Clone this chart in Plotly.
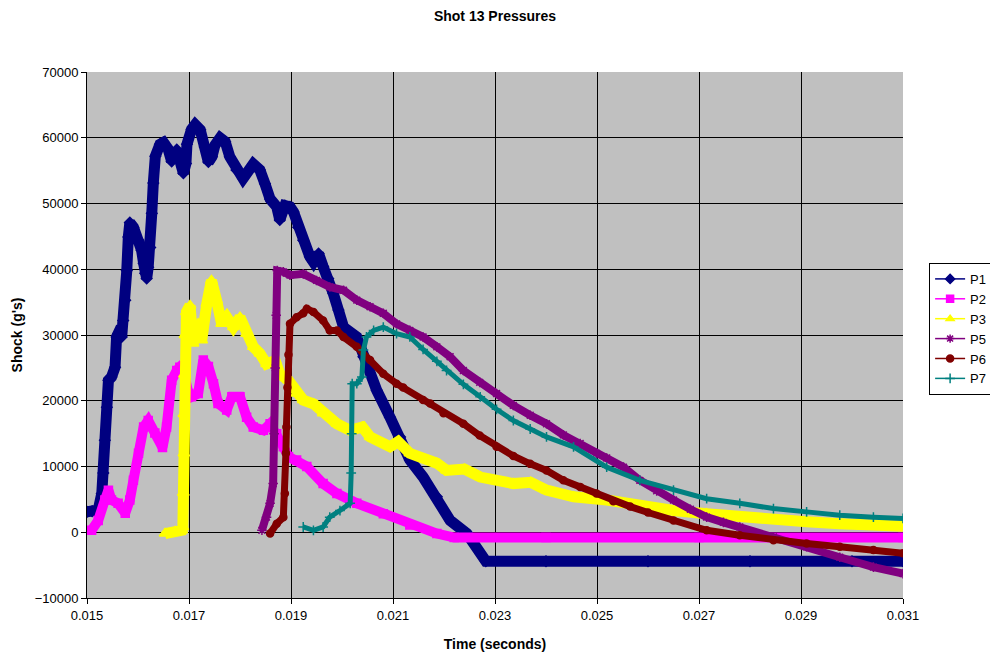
import plotly.graph_objects as go

# values
p1_t = [0.01500, 0.01510, 0.01522, 0.01529, 0.01532, 0.01535, 0.01539, 0.01542, 0.01548, 0.01555,
        0.01558, 0.01561, 0.01568, 0.01571, 0.01575, 0.01578, 0.01581, 0.01584, 0.01591, 0.01601,
        0.01607, 0.01611, 0.01614, 0.01617, 0.01620, 0.01624, 0.01627, 0.01630, 0.01634, 0.01643,
        0.01650, 0.01659, 0.01666, 0.01676, 0.01682, 0.01689, 0.01694, 0.01696, 0.01705, 0.01712,
        0.01722, 0.01731, 0.01738, 0.01745, 0.01751, 0.01761, 0.01771, 0.01780, 0.01793, 0.01806,
        0.01826, 0.01839, 0.01849, 0.01859, 0.01872, 0.01878, 0.01888, 0.01898, 0.01905, 0.01914,
        0.01924, 0.01937, 0.01944, 0.01954, 0.01963, 0.01973, 0.01983, 0.01993, 0.02003, 0.02029,
        0.02042, 0.02068, 0.02094, 0.02114, 0.02133, 0.02159, 0.02186, 0.02212, 0.02245, 0.02271,
        0.02282, 0.02400, 0.02600, 0.02800, 0.03000, 0.03100]
p1_v = [3100, 3200, 3400, 5900, 9000, 14000, 19000, 23100, 23600, 25100,
        29700, 30200, 29700, 32200, 35300, 39800, 44900, 47100, 46400, 44400,
        42900, 40900, 39400, 38600, 40300, 43300, 48500, 53100, 57200, 59000,
        59300, 58300, 56400, 58200, 57000, 54600, 56100, 59000, 61300, 62000,
        61200, 58600, 56300, 57100, 58900, 60000, 59400, 57100, 55100, 53800,
        56000, 55100, 53000, 50700, 49500, 47500, 49700, 49500, 48700, 46400,
        44400, 41900, 41100, 42400, 40400, 38600, 36300, 33800, 31200, 29700,
        26700, 21600, 17500, 14500, 11000, 8400, 5400, 1800, -200, -3200,
        -4400, -4400, -4400, -4400, -4400, -4400]

p2_t = [0.01509, 0.01522, 0.01535, 0.01542, 0.01548, 0.01561, 0.01575, 0.01584, 0.01591, 0.01601,
        0.01611, 0.01620, 0.01633, 0.01648, 0.01656, 0.01666, 0.01676, 0.01682, 0.01689, 0.01692,
        0.01699, 0.01705, 0.01718, 0.01728, 0.01738, 0.01748, 0.01757, 0.01774, 0.01784, 0.01800,
        0.01813, 0.01826, 0.01846, 0.01859, 0.01872, 0.01885, 0.01895, 0.01911, 0.01931, 0.01963,
        0.01990, 0.02029, 0.02081, 0.02133, 0.02186, 0.02220, 0.02400, 0.02700, 0.03100]
p2_v = [300, 1800, 4900, 6400, 4900, 4400, 2900, 4900, 7900, 12000,
        16000, 17000, 15100, 12900, 16000, 23100, 24600, 25100, 24600, 22600,
        21100, 20600, 21100, 26200, 25200, 22600, 19600, 18600, 20600, 20600,
        17500, 16000, 15500, 16500, 15000, 13000, 11500, 11000, 10000, 7400,
        5900, 4400, 2800, 1100, -200, -800, -800, -800, -800]

p3_t = [0.01653, 0.01673, 0.01686, 0.01688, 0.01689, 0.01690, 0.01690, 0.01691, 0.01692, 0.01695,
        0.01702, 0.01708, 0.01718, 0.01725, 0.01735, 0.01744, 0.01754, 0.01764, 0.01774, 0.01787,
        0.01800, 0.01813, 0.01826, 0.01839, 0.01852, 0.01869, 0.01878, 0.01895, 0.01911, 0.01924,
        0.01945, 0.01963, 0.01990, 0.02016, 0.02040, 0.02055, 0.02094, 0.02110, 0.02133, 0.02186,
        0.02205, 0.02240, 0.02271, 0.02336, 0.02370, 0.02401, 0.02454, 0.02519, 0.02584, 0.02650,
        0.02715, 0.02780, 0.02846, 0.02911, 0.02976, 0.03042, 0.03100]
p3_v = [-200, 100, 300, 800, 6000, 12000, 18000, 24000, 30000, 33500,
        34500, 28700, 31700, 29200, 34800, 38300, 35300, 31700, 32700, 31200,
        32700, 30200, 28200, 27200, 25600, 26100, 24100, 23100, 21100, 20100,
        19500, 18100, 16500, 15500, 16000, 14500, 13000, 13800, 12000, 10500,
        9400, 9600, 8400, 7400, 7600, 6400, 5400, 4900, 3900, 3300,
        2800, 2300, 1800, 1600, 1300, 1100, 900]

p5_t = [0.01843, 0.01852, 0.01859, 0.01865, 0.01867, 0.01869, 0.01871, 0.01873, 0.01885, 0.01898,
        0.01924, 0.01950, 0.01976, 0.02003, 0.02029, 0.02055, 0.02081, 0.02107, 0.02133, 0.02159,
        0.02186, 0.02212, 0.02238, 0.02270, 0.02303, 0.02336, 0.02369, 0.02401, 0.02434, 0.02467,
        0.02499, 0.02519, 0.02552, 0.02584, 0.02617, 0.02650, 0.02683, 0.02715, 0.02748, 0.02780,
        0.02846, 0.02911, 0.02976, 0.03042, 0.03100]
p5_v = [300, 2300, 4400, 7400, 15000, 25000, 33000, 39800, 39600, 39100,
        39300, 38300, 37300, 36800, 35300, 34300, 33300, 31700, 30700, 29700,
        28200, 26700, 24600, 22800, 21100, 19300, 17800, 16500, 14800, 13500,
        12000, 11300, 9900, 7900, 6300, 4900, 3500, 2300, 1500, 800,
        -700, -2200, -3800, -5300, -6300]

p6_t = [0.01859, 0.01872, 0.01885, 0.01888, 0.01890, 0.01891, 0.01893, 0.01895, 0.01898, 0.01911,
        0.01924, 0.01931, 0.01944, 0.01963, 0.01976, 0.01990, 0.02003, 0.02029, 0.02055, 0.02081,
        0.02107, 0.02120, 0.02159, 0.02173, 0.02199, 0.02238, 0.02270, 0.02303, 0.02336, 0.02369,
        0.02401, 0.02434, 0.02467, 0.02499, 0.02532, 0.02565, 0.02600, 0.02650, 0.02715, 0.02780,
        0.02846, 0.02911, 0.02976, 0.03042, 0.03100]
p6_v = [-200, 1300, 2300, 5900, 12000, 16000, 22000, 27000, 31700, 32700,
        33300, 34000, 33500, 32200, 30700, 30700, 29700, 28200, 26200, 24100,
        22600, 22000, 20100, 19600, 18100, 16500, 14700, 13000, 11600, 10400,
        9400, 7900, 6900, 5900, 4700, 3900, 3000, 1800, 300, -460,
        -1200, -1700, -2200, -2700, -3200]

p7_t = [0.01924, 0.01944, 0.01963, 0.01976, 0.01996, 0.02016, 0.02018, 0.02019, 0.02020, 0.02029,
        0.02039, 0.02042, 0.02048, 0.02062, 0.02081, 0.02107, 0.02133, 0.02159, 0.02186, 0.02205,
        0.02238, 0.02271, 0.02303, 0.02336, 0.02369, 0.02401, 0.02454, 0.02519, 0.02584, 0.02650,
        0.02715, 0.02780, 0.02846, 0.02911, 0.02976, 0.03042, 0.03100]
p7_v = [800, 300, 800, 2300, 3300, 4400, 9000, 15000, 22600, 22600,
        23600, 27700, 29700, 30700, 31200, 30200, 29700, 27800, 26000, 24600,
        22500, 20600, 18700, 17000, 15700, 14500, 13000, 9900, 7900, 6400,
        5100, 4400, 3600, 3100, 2600, 2300, 2100]

x_ticks = [0.015, 0.017, 0.019, 0.021, 0.023, 0.025, 0.027, 0.029, 0.031]
y_ticks = [-10000, 0, 10000, 20000, 30000, 40000, 50000, 60000, 70000]

series = [
    ("P1", p1_t, p1_v, "#000080", "diamond", 11, 8),
    ("P2", p2_t, p2_v, "#FF00FF", "square", 10, 8),
    ("P3", p3_t, p3_v, "#FFFF00", "triangle-up", 11, 10),
    ("P5", p5_t, p5_v, "#800080", "asterisk-open", 8, 8),
    ("P6", p6_t, p6_v, "#800000", "circle", 7, 7),
    ("P7", p7_t, p7_v, "#008080", "cross-thin-open", 5, 7),
]

fig = go.Figure()
for name, t, v, col, sym, lw, ms in series:
    # thick band for the dense samples
    fig.add_trace(go.Scatter(
        x=t, y=v, mode="lines+markers", name=name, legendgroup=name, showlegend=False,
        line=dict(color=col, width=lw),
        marker=dict(symbol=sym, size=ms, color=col, line=dict(color=col, width=1.5)),
    ))
    # legend entry like Excel's (thin line + marker)
    fig.add_trace(go.Scatter(
        x=[None], y=[None], mode="lines+markers", name=name, legendgroup=name,
        line=dict(color=col, width=1.5),
        marker=dict(symbol=sym, size=7, color=col, line=dict(color=col, width=1.5)),
    ))

# the page body adds an 8px offset, so the figure is 990x648
fig.update_layout(
    width=990, height=648,
    margin=dict(l=79, r=95, t=64, b=58, autoexpand=False),
    paper_bgcolor="white",
    plot_bgcolor="#C0C0C0",
    font=dict(family="Arial, Liberation Sans, sans-serif", size=12, color="black"),
    title=dict(text="<b>Shot 13 Pressures</b>", x=0.5, xref="paper", y=0.988, yanchor="middle",
               font=dict(size=14)),
    legend=dict(x=1.032, xref="paper", xanchor="left", y=0.637, yanchor="top",
                bgcolor="white", bordercolor="black", borderwidth=1,
                font=dict(size=13), tracegroupgap=0, itemwidth=30),
    showlegend=True,
)
fig.update_xaxes(
    range=[0.015, 0.031], tickvals=x_ticks, tickformat=".3f", tickfont=dict(size=13),
    showgrid=True, gridcolor="black", gridwidth=1,
    showline=True, linecolor="black", linewidth=1,
    ticks="outside", ticklen=5, tickcolor="black", automargin=False,
    zeroline=False, title=dict(text="<b>Time (seconds)</b>", standoff=17),
)
fig.update_yaxes(
    range=[-10000, 70000], tickvals=y_ticks, tickformat="d", tickfont=dict(size=13),
    showgrid=True, gridcolor="black", gridwidth=1,
    showline=True, linecolor="black", linewidth=1,
    ticks="outside", ticklen=5, tickcolor="black", automargin=False,
    zeroline=False, title=dict(text="<b>Shock (g's)</b>", standoff=8),
)

fig.write_html("out.html")
